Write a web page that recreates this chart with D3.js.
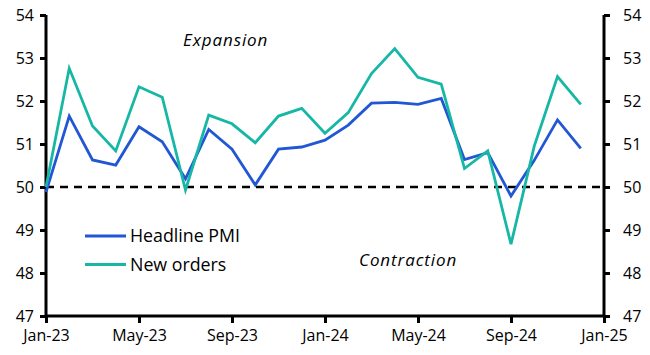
<!DOCTYPE html>
<html><head><meta charset="utf-8">
<script src="https://cdn.jsdelivr.net/npm/d3@7"></script>
<style>body{margin:0;background:#fff;} svg{display:block;font-family:"Open Sans",sans-serif;}</style>
</head><body><svg id="c" width="650" height="355"></svg>
<script>
const months = ["Jan-23","Feb-23","Mar-23","Apr-23","May-23","Jun-23","Jul-23","Aug-23","Sep-23","Oct-23","Nov-23","Dec-23",
"Jan-24","Feb-24","Mar-24","Apr-24","May-24","Jun-24","Jul-24","Aug-24","Sep-24","Oct-24","Nov-24","Dec-24"];
const headlinePMI = [49.88,51.65,50.63,50.51,51.40,51.05,50.19,51.34,50.88,50.05,50.88,50.93,
51.09,51.44,51.95,51.97,51.92,52.06,50.64,50.80,49.79,50.62,51.56,50.90];
const newOrders = [50.0,52.76,51.42,50.84,52.33,52.09,49.93,51.67,51.47,51.03,51.65,51.83,
51.25,51.73,52.64,53.22,52.55,52.39,50.43,50.84,48.67,50.95,52.57,51.92];
const xTickLabels = ["Jan-23","May-23","Sep-23","Jan-24","May-24","Sep-24","Jan-25"];
const yTicks = [47,48,49,50,51,52,53,54];
const seriesNames = ["Headline PMI","New orders"];
const colors = ["#2257d4","#17b7a6"];

const svg = d3.select("#c");
const L=46, R=604, T=15, B=316;
const x = d3.scaleLinear().domain([0,24]).range([L,R]);
const y = d3.scaleLinear().domain([47,54]).range([B,T]);

const fs = "16px";
const la = svg.append("g").attr("transform",`translate(${L},0)`)
  .call(d3.axisLeft(y).tickValues(yTicks).tickSize(6).tickPadding(6).tickFormat(d3.format("d")));
const ra = svg.append("g").attr("transform",`translate(${R},0)`)
  .call(d3.axisRight(y).tickValues(yTicks).tickSize(6).tickPadding(13).tickFormat(d3.format("d")));
const ba = svg.append("g").attr("transform",`translate(0,${B})`)
  .call(d3.axisBottom(x).tickValues(d3.range(0,25,4)).tickSize(7).tickPadding(7).tickFormat((d,i)=>xTickLabels[i]));
[la,ra,ba].forEach(g=>{
  g.select(".domain").attr("stroke","#000").attr("stroke-width",3);
  g.selectAll(".tick line").attr("stroke","#000").attr("stroke-width",3);
  g.selectAll(".tick text").attr("fill","#000").style("font-size",fs).style("font-family","'Open Sans',sans-serif");
});
ba.select(".domain").attr("d",`M${L},0H${R}`);
la.select(".domain").attr("d",`M0,${B}V${T}`);
ra.select(".domain").attr("d",`M0,${B}V${T}`);

svg.append("line").attr("x1",L).attr("x2",R).attr("y1",y(50)).attr("y2",y(50))
  .attr("stroke","#000").attr("stroke-width",2.5).attr("stroke-dasharray","8,6");

const line = d3.line().x((d,i)=>x(i)).y(d=>y(d));
[headlinePMI,newOrders].forEach((s,k)=>{
  svg.append("path").datum(s).attr("d",line).attr("fill","none")
    .attr("stroke",colors[k]).attr("stroke-width",2.8).attr("stroke-linejoin","miter");
});

seriesNames.forEach((n,k)=>{
  const yy = 236 + k*28.5;
  svg.append("line").attr("x1",85).attr("x2",126).attr("y1",yy).attr("y2",yy)
    .attr("stroke",colors[k]).attr("stroke-width",3);
  svg.append("text").attr("x",130).attr("y",yy).attr("dy","0.35em").text(n)
    .style("font-size","17.8px").attr("fill","#000");
});
svg.append("text").attr("x",183).attr("y",40).attr("dy","0.35em").text("Expansion")
  .style("font-size","17px").style("letter-spacing","0.9px").style("font-style","italic").attr("fill","#000");
svg.append("text").attr("x",359).attr("y",260).attr("dy","0.35em").text("Contraction")
  .style("font-size","17px").style("letter-spacing","0.9px").style("font-style","italic").attr("fill","#000");
</script></body></html>
